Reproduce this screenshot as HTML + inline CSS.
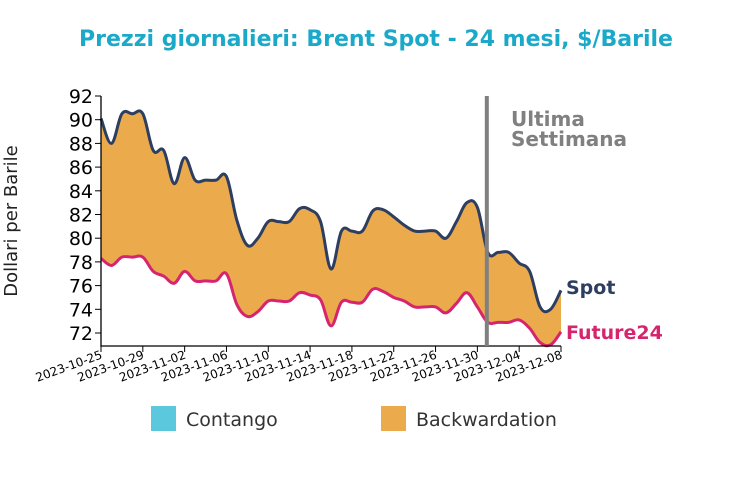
<!DOCTYPE html>
<html><head><meta charset="utf-8"><style>
body{margin:0;background:#fff;font-family:"DejaVu Sans","Liberation Sans",sans-serif}
</style></head><body>
<svg id="chart" width="752" height="476" xmlns="http://www.w3.org/2000/svg" font-family="DejaVu Sans, Liberation Sans, sans-serif">
<text x="376" y="46" text-anchor="middle" font-size="22" font-weight="bold" fill="#1aa9c9">Prezzi giornalieri: Brent Spot - 24 mesi, $/Barile</text>
<text transform="translate(17,221) rotate(-90)" text-anchor="middle" font-size="18" fill="#222">Dollari per Barile</text>
<g id="plot"></g>
<g>
<rect x="151" y="406" width="25" height="25" fill="#5bc8de"/>
<text x="186" y="426" font-size="19" fill="#333">Contango</text>
<rect x="381" y="406" width="25" height="25" fill="#ebab4d"/>
<text x="416" y="426" font-size="19" fill="#333">Backwardation</text>
</g>
</svg>
<script>
const spot=[90.1,88.0,90.5,90.5,90.5,87.4,87.4,84.6,86.8,84.9,84.9,84.9,85.2,81.5,79.4,80.0,81.4,81.4,81.4,82.5,82.4,81.4,77.4,80.6,80.6,80.6,82.3,82.4,81.8,81.1,80.6,80.6,80.6,80.0,81.4,83.0,82.6,78.8,78.8,78.8,77.9,77.2,74.2,74.0,75.6];
const future24=[78.3,77.7,78.4,78.4,78.4,77.2,76.8,76.2,77.2,76.4,76.4,76.4,77.0,74.4,73.4,73.8,74.7,74.7,74.7,75.4,75.2,74.8,72.6,74.6,74.6,74.6,75.7,75.5,75.0,74.7,74.2,74.2,74.2,73.7,74.5,75.4,74.2,72.9,72.9,72.9,73.1,72.4,71.2,71.0,72.1];
const tickLabels=["2023-10-25","2023-10-29","2023-11-02","2023-11-06","2023-11-10","2023-11-14","2023-11-18","2023-11-22","2023-11-26","2023-11-30","2023-12-04","2023-12-08"];
const yTicks=[72,74,76,78,80,82,84,86,88,90,92];
const lastWeekDay=37;
const X0=101,X1=561,Y92=96,Y72=333;
const x=d=>X0+d*(X1-X0)/(spot.length-1);
const y=v=>Y92+(92-v)*(Y72-Y92)/20;
const NS="http://www.w3.org/2000/svg";
const g=document.getElementById('plot');
function mk(t,a){const e=document.createElementNS(NS,t);for(const k in a)e.setAttribute(k,a[k]);g.appendChild(e);return e;}
function spline(pts){let d=`M${pts[0][0]},${pts[0][1]}`;for(let i=0;i<pts.length-1;i++){const p0=pts[i-1]||pts[i],p1=pts[i],p2=pts[i+1],p3=pts[i+2]||p2;const t=0.18;d+=` C${p1[0]+(p2[0]-p0[0])*t},${p1[1]+(p2[1]-p0[1])*t} ${p2[0]-(p3[0]-p1[0])*t},${p2[1]-(p3[1]-p1[1])*t} ${p2[0]},${p2[1]}`;}return d;}
function splineRev(pts){return spline(pts.slice().reverse()).replace(/^M/,'L');}
const sp=spot.map((v,i)=>[x(i),y(v)]), fp=future24.map((v,i)=>[x(i),y(v)]);
let area=mk('path',{d:spline(sp)+' '+splineRev(fp)+' Z',fill:'#ebab4d'});


let ls=mk('path',{d:spline(sp),fill:'none',stroke:'#2d3e60','stroke-width':3});


let lf=mk('path',{d:spline(fp),fill:'none',stroke:'#d6256e','stroke-width':3});


// axes
let ax=mk('path',{d:`M${X0},96 V346 H${X1}`,fill:'none',stroke:'#000','stroke-width':1.3});


yTicks.forEach(v=>{
 let t=mk('line',{x1:X0-6,x2:X0,y1:y(v),y2:y(v),stroke:'#000'});
 
 
 let l=mk('text',{x:X0-8,y:y(v)+7,'text-anchor':'end','font-size':19,fill:'#000'});l.textContent=v;
 
 
});
tickLabels.forEach((s,i)=>{
 const xx=x(i*4);
 let t=mk('line',{x1:xx,x2:xx,y1:346,y2:352,stroke:'#000'});
 
 
 let l=mk('text',{transform:`translate(${xx+2},358) rotate(-20)`,'text-anchor':'end','font-size':12,fill:'#000'});l.textContent=s;
 
 
});
const vx=x(lastWeekDay)-1;
let vl=mk('line',{x1:vx,x2:vx,y1:96,y2:346,stroke:'#808080','stroke-width':4});


let a1=mk('text',{x:511,y:126,'font-size':20,'font-weight':'bold',fill:'#808080'});a1.textContent='Ultima';


let a2=mk('text',{x:511,y:146,'font-size':20,'font-weight':'bold',fill:'#808080'});a2.textContent='Settimana';


let s1=mk('text',{x:566,y:294,'font-size':19,'font-weight':'bold',fill:'#2d3e60'});s1.textContent='Spot';


let s2=mk('text',{x:566,y:339,'font-size':19,'font-weight':'bold',fill:'#d6256e'});s2.textContent='Future24';


</script>
</body></html>
